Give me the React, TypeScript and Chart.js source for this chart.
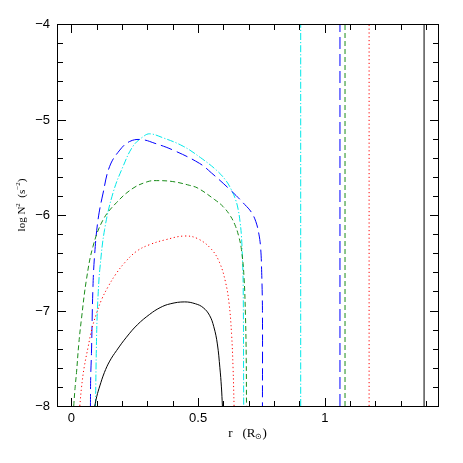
import React, { useEffect, useRef } from "react";
import { Chart, registerables } from "chart.js";

Chart.register(...registerables);

// Axis ranges
const xMin = -0.057;
const xMax = 1.447;
const yMin = -8;
const yMax = -4;
const xTickLabels = [0, 0.5, 1];
const yTickLabels = [-8, -7, -6, -5, -4];

// Model 1 (black, solid)
const blackR = [0.092, 0.1, 0.112, 0.13, 0.151, 0.178, 0.217, 0.26, 0.309, 0.35, 0.39, 0.447, 0.49, 0.52, 0.545, 0.562, 0.576, 0.586, 0.592, 0.596];
const blackN = [-8.0, -7.9, -7.79, -7.65, -7.53, -7.42, -7.28, -7.15, -7.04, -6.97, -6.93, -6.91, -6.93, -6.97, -7.05, -7.17, -7.35, -7.6, -7.8, -8.0];

// Model 2 (red, dotted)
const redR = [0.033, 0.04, 0.05, 0.066, 0.08, 0.099, 0.12, 0.145, 0.175, 0.21, 0.257, 0.309, 0.37, 0.447, 0.5, 0.553, 0.585, 0.608, 0.622, 0.632, 0.638, 0.642];
const redN = [-8.0, -7.8, -7.6, -7.38, -7.2, -7.03, -6.88, -6.75, -6.62, -6.5, -6.38, -6.31, -6.26, -6.22, -6.25, -6.36, -6.5, -6.7, -6.92, -7.24, -7.6, -8.0];

// Model 3 (green, short dash)
const greenR = [0.009, 0.014, 0.02, 0.029, 0.039, 0.059, 0.085, 0.125, 0.178, 0.243, 0.302, 0.335, 0.4, 0.467, 0.5, 0.566, 0.598, 0.625, 0.645, 0.66, 0.671, 0.681, 0.687, 0.69, 0.691];
const greenN = [-8.0, -7.82, -7.65, -7.35, -7.1, -6.68, -6.33, -6.05, -5.87, -5.72, -5.65, -5.64, -5.65, -5.69, -5.72, -5.84, -5.91, -6.0, -6.1, -6.22, -6.36, -6.64, -7.06, -7.5, -8.0];

// Model 4 (blue, long dash)
const blueR = [0.075, 0.076, 0.079, 0.085, 0.092, 0.105, 0.125, 0.151, 0.191, 0.23, 0.276, 0.33, 0.401, 0.506, 0.553, 0.632, 0.684, 0.71, 0.728, 0.74, 0.747, 0.751, 0.754, 0.754];
const blueN = [-8.0, -7.7, -7.45, -6.75, -6.4, -6.05, -5.77, -5.49, -5.32, -5.23, -5.21, -5.25, -5.32, -5.46, -5.56, -5.75, -5.89, -5.97, -6.07, -6.2, -6.35, -6.6, -7.0, -8.0];

// Model 5 (cyan, dash-dot)
const cyanR = [0.095, 0.096, 0.098, 0.101, 0.106, 0.112, 0.131, 0.164, 0.204, 0.243, 0.283, 0.309, 0.36, 0.441, 0.51, 0.572, 0.61, 0.632, 0.648, 0.658, 0.666, 0.671, 0.675, 0.678, 0.68];
const cyanN = [-8.0, -7.8, -7.45, -7.1, -6.8, -6.57, -6.15, -5.77, -5.49, -5.28, -5.18, -5.15, -5.19, -5.28, -5.4, -5.53, -5.64, -5.74, -5.84, -5.94, -6.08, -6.22, -6.45, -6.75, -8.0];

// Stellar surface radius of each model (vertical lines)
const surfaceR = [1.392, 1.175, 1.08, 1.06, 0.905];

// Tick mark positions (major every 0.5 / 1, minor every 0.1 / 0.2)
const xMinorTicks = [0, 0.1, 0.2, 0.3, 0.4, 0.5, 0.6, 0.7, 0.8, 0.9, 1.0, 1.1, 1.2, 1.3, 1.4];
const yMinorTicks = [-8, -7.8, -7.6, -7.4, -7.2, -7, -6.8, -6.6, -6.4, -6.2, -6, -5.8, -5.6, -5.4, -5.2, -5, -4.8, -4.6, -4.4, -4.2, -4];

const colors = ["#000000", "#ff0000", "#1a8c1a", "#0000ff", "#00e8e8"];
const dashes: number[][] = [[], [1.2, 2.6], [5, 3], [12, 5], [7, 2, 1.2, 2]];

const toPts = (r: number[], n: number[]) => r.map((x, i) => ({ x, y: n[i] }));

const fmt = (v: number) => (v < 0 ? "\u2212" + Math.abs(v) : String(v));

type Seg = { t: string; size: number; dy: number };

function drawSegs(ctx: CanvasRenderingContext2D, segs: Seg[], family: string) {
  let total = 0;
  for (const s of segs) {
    ctx.font = `${s.size}px ${family}`;
    total += ctx.measureText(s.t).width;
  }
  let x = -total / 2;
  for (const s of segs) {
    ctx.font = `${s.size}px ${family}`;
    ctx.fillText(s.t, x, s.dy);
    x += ctx.measureText(s.t).width;
  }
}

const isMajor = (v: number, step: number) => Math.abs(v / step - Math.round(v / step)) < 1e-6;

const framePlugin = {
  id: "frameTicks",
  afterDraw(chart: any) {
    const ctx: CanvasRenderingContext2D = chart.ctx;
    const a = chart.chartArea;
    const L = Math.round(a.left);
    const R = Math.round(a.right);
    const T = Math.round(a.top);
    const B = Math.round(a.bottom);
    const W = a.right - a.left;
    const H = a.bottom - a.top;
    const xPix = (v: number) => a.left + ((v - xMin) / (xMax - xMin)) * W;
    const yPix = (v: number) => a.bottom - ((v - yMin) / (yMax - yMin)) * H;
    ctx.save();
    ctx.setLineDash([]);
    ctx.globalAlpha = 1;
    ctx.fillStyle = "#000000";
    // frame
    ctx.fillRect(L, T, R - L + 1, 1);
    ctx.fillRect(L, B, R - L + 1, 1);
    ctx.fillRect(L, T, 1, B - T + 1);
    ctx.fillRect(R, T, 1, B - T + 1);
    // tick marks, pointing inwards on all four sides
    for (let i = 0; i < xMinorTicks.length; i++) {
      const v = xMinorTicks[i];
      const px = Math.round(xPix(v));
      const len = isMajor(v, 0.5) ? 8 : 5;
      ctx.fillRect(px, B - len, 1, len);
      ctx.fillRect(px, T + 1, 1, len);
    }
    for (let i = 0; i < yMinorTicks.length; i++) {
      const v = yMinorTicks[i];
      const py = Math.round(yPix(v));
      const len = isMajor(v, 1) ? 8 : 5;
      ctx.fillRect(L + 1, py, len, 1);
      ctx.fillRect(R - len, py, len, 1);
    }

    // tick labels
    ctx.font = "13px 'Liberation Sans', sans-serif";
    ctx.textBaseline = "middle";
    ctx.textAlign = "center";
    for (const v of xTickLabels) ctx.fillText(fmt(v), xPix(v), 418);
    ctx.textAlign = "right";
    for (const v of yTickLabels) ctx.fillText(fmt(v), 50, yPix(v) + 0.5);

    // axis titles
    ctx.textBaseline = "alphabetic";
    ctx.textAlign = "left";
    const fam = "'Liberation Serif', serif";
    ctx.save();
    ctx.translate((a.left + a.right) / 2, 437);
    drawSegs(
      ctx,
      [
        { t: "r", size: 13, dy: 0 },
        { t: "   (R", size: 13, dy: 0 },
        { t: "\u2299", size: 8, dy: 2 },
        { t: ")", size: 13, dy: 0 },
      ],
      fam
    );
    ctx.restore();
    ctx.save();
    ctx.translate(25, 205);
    ctx.rotate(-Math.PI / 2);
    drawSegs(
      ctx,
      [
        { t: "log N", size: 11, dy: 0 },
        { t: "2", size: 7, dy: -5 },
        { t: "  (s", size: 11, dy: 0 },
        { t: "\u22122", size: 7, dy: -5 },
        { t: ")", size: 11, dy: 0 },
      ],
      fam
    );
    ctx.restore();
    ctx.restore();
  },
};

export default function App() {
  const ref = useRef<HTMLCanvasElement | null>(null);
  useEffect(() => {
    if (!ref.current) return;
    const curves = [
      toPts(blackR, blackN),
      toPts(redR, redN),
      toPts(greenR, greenN),
      toPts(blueR, blueN),
      toPts(cyanR, cyanN),
    ];
    const datasets: any[] = [];
    curves.forEach((pts, i) => {
      datasets.push({
        data: pts,
        borderColor: colors[i],
        borderWidth: 1,
        borderDash: dashes[i],
        pointRadius: 0,
        showLine: true,
        tension: 0.4,
        fill: false,
      });
      datasets.push({
        data: [
          { x: surfaceR[i], y: yMin },
          { x: surfaceR[i], y: yMax },
        ],
        borderColor: colors[i],
        borderWidth: 1,
        borderDash: dashes[i],
        pointRadius: 0,
        showLine: true,
        tension: 0,
        fill: false,
      });
    });
    const chart = new Chart(ref.current, {
      type: "scatter",
      data: { datasets },
      options: {
        animation: false,
        responsive: false,
        maintainAspectRatio: false,
        layout: { padding: { left: 0, right: 25, top: 24, bottom: 0 } },
        plugins: { legend: { display: false }, tooltip: { enabled: false } },
        scales: {
          x: {
            type: "linear",
            min: xMin,
            max: xMax,
            grid: { display: false },
            border: { display: false },
            ticks: { display: false },
            afterFit: (s: any) => {
              s.height = 57;
            },
          },
          y: {
            type: "linear",
            min: yMin,
            max: yMax,
            grid: { display: false },
            border: { display: false },
            ticks: { display: false },
            afterFit: (s: any) => {
              s.width = 57;
            },
          },
        },
      },
      plugins: [framePlugin],
    });
    return () => chart.destroy();
  }, []);
  return (
    <div style={{ position: "absolute", left: 0, top: 0, width: 463, height: 463, background: "#fff" }}>
      <canvas ref={ref} width={463} height={463} style={{ width: 463, height: 463, display: "block" }} />
    </div>
  );
}
